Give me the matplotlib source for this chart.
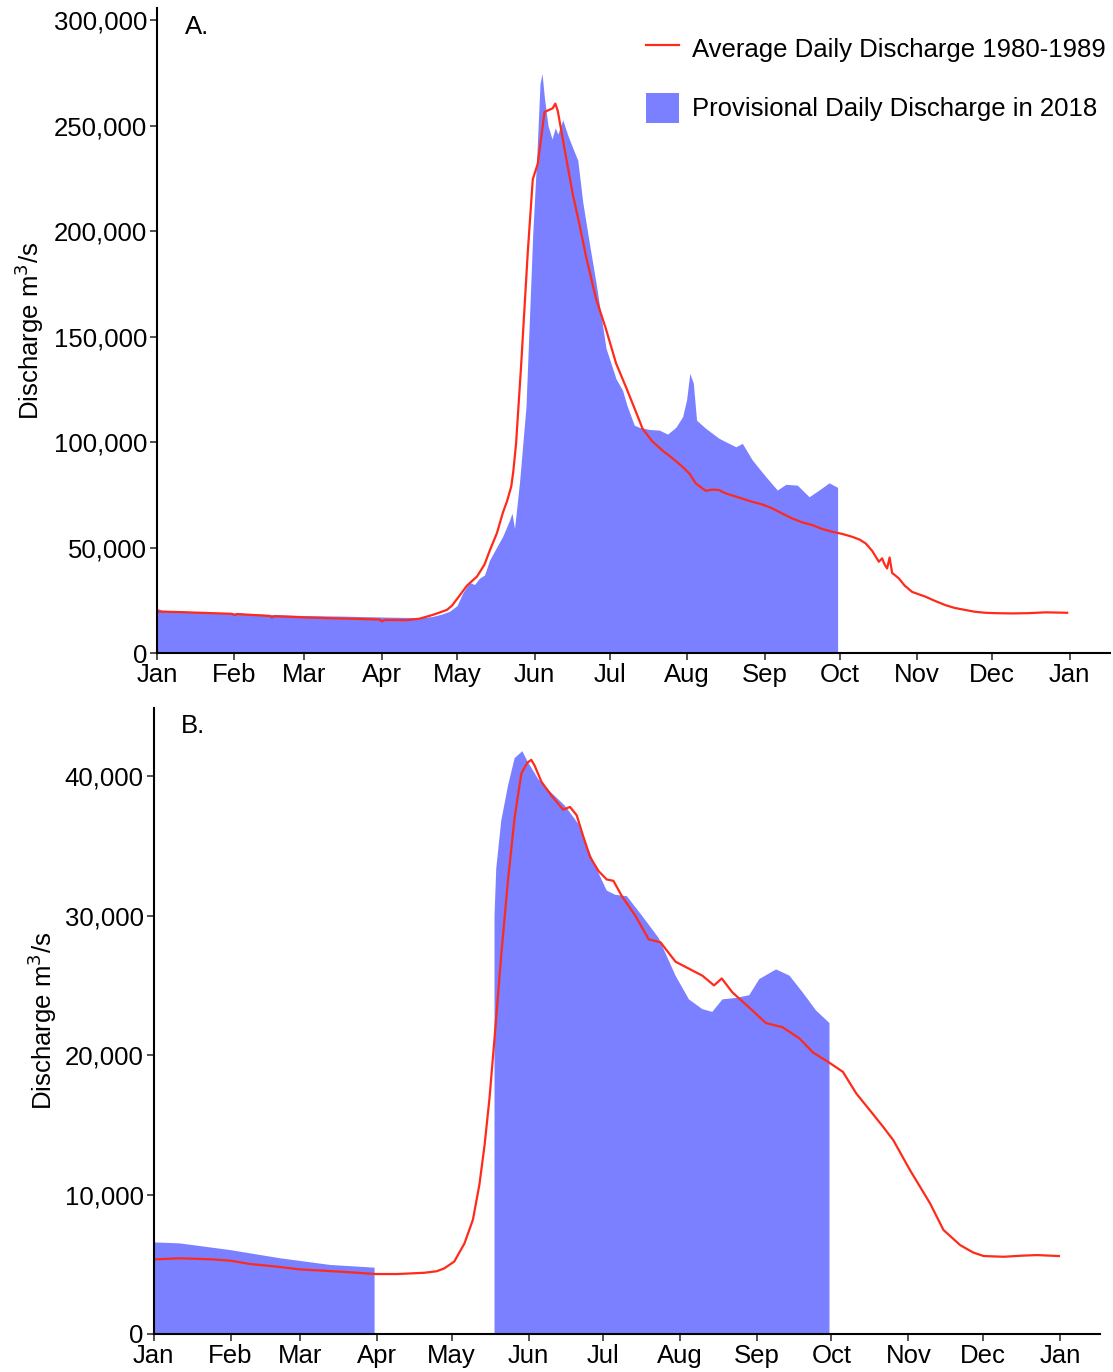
import numpy as np
import matplotlib
matplotlib.use("Agg")
import matplotlib.pyplot as plt
from matplotlib.lines import Line2D
from matplotlib.patches import Patch
from matplotlib.ticker import FuncFormatter

plt.rcParams['font.family'] = ['Liberation Sans', 'DejaVu Sans']

# month starts (day of year) and labels
month_days = [0, 31, 59, 90, 120, 151, 181, 212, 243, 273, 304, 334, 365]
month_labels = ["Jan", "Feb", "Mar", "Apr", "May", "Jun", "Jul", "Aug",
                "Sep", "Oct", "Nov", "Dec", "Jan"]

# ---------------- panel A (thousand m3/s) ----------------
a_avg_day = [0, 10, 20, 30, 31, 32, 45, 46, 47, 59, 70, 80, 89, 90, 91, 100,
             105, 110, 113, 116, 118, 121, 124, 128, 131, 133, 136, 138.3, 140,
             141.7, 142.5, 143.6, 145.6, 148.3, 150.3, 152.3, 155, 158.3, 159.3,
             160.3, 163, 166.3, 169, 171.6, 175.6, 179.6, 183.6, 187.6, 191,
             194.2, 198, 202.2, 206, 210.2, 213, 215.5, 219.5, 222, 224.8, 226,
             227.5, 232, 238.1, 242, 246.1, 250, 254.1, 258, 262.1, 266, 270.1,
             274, 278.1, 281, 283.4, 286, 288.7, 290, 291, 292, 293, 294, 296.7,
             299, 302, 307.4, 311, 315.4, 319, 323.4, 327, 331.3, 336, 342, 348,
             355.3, 360, 364]
a_avg_val = [19.7, 19.4, 19.0, 18.6, 18.0, 18.5, 17.6, 16.9, 17.5, 16.9, 16.5,
             16.2, 15.9, 15.0, 15.7, 15.6, 16.3, 18.0, 19.2, 20.5, 22.5, 27.2,
             32.0, 36.3, 42.0, 48.3, 57.0, 66.4, 72.0, 79.0, 86.0, 99.0, 135.5,
             190.0, 224.6, 232.0, 256.5, 258.3, 260.5, 257.0, 239.0, 217.5,
             203.0, 188.0, 168.0, 153.5, 137.4, 126.0, 116.0, 106.4, 100.5, 96.0,
             92.5, 88.3, 85.0, 80.4, 76.9, 77.5, 77.3, 76.5, 75.7, 74.0, 71.7,
             70.5, 68.6, 66.2, 63.8, 62.0, 60.7, 58.8, 57.5, 56.5, 55.1, 53.8,
             52.0, 48.5, 43.3, 44.9, 42.0, 40.1, 45.3, 38.0, 35.4, 32.0, 29.0,
             26.7, 24.8, 22.7, 21.4, 20.4, 19.6, 19.1, 18.9, 18.8, 18.9, 19.3,
             19.2, 19.1]

a_2018_day = [0, 2, 15, 31, 45, 59, 75, 90, 100, 105, 110, 114, 117, 120, 122.3,
              125, 127, 129, 131, 133, 136, 138.3, 140.9, 142, 143, 145, 147.6,
              150.3, 151.9, 153.2, 154, 155, 156.4, 158, 159.3, 160.3, 162.3,
              164.3, 167, 168.3, 170.3, 173, 175.6, 179.6, 183.6, 186.2, 188,
              190.9, 193, 196.9, 200.9, 204.2, 207.5, 210.2, 211.8, 213.1, 214.5,
              215.8, 219.5, 224.8, 231.5, 234.1, 238.1, 243.5, 248.1, 251.5,
              256.1, 260.8, 264.8, 268.8, 271.8, 272.2]
a_2018_val = [21.2, 20.3, 19.6, 19.0, 18.3, 17.8, 17.5, 17.1, 16.9, 16.8, 17.3,
              18.5, 19.8, 22.5, 28.5, 33.5, 32.5, 35.5, 37.0, 44.0, 50.5, 55.4,
              62.7, 66.3, 59.0, 81.0, 117.0, 199.0, 235.5, 270.0, 274.7, 262.8,
              250.0, 243.7, 249.0, 246.0, 252.8, 245.5, 237.4, 233.6, 213.7,
              193.8, 175.5, 144.5, 130.0, 124.6, 117.3, 108.0, 107.0, 106.0,
              105.7, 103.8, 107.0, 112.0, 120.0, 132.6, 128.0, 110.4, 106.5,
              101.8, 97.8, 99.4, 91.5, 83.6, 77.3, 80.0, 79.6, 74.1, 77.3, 80.7,
              78.8, 78.5]

# ---------------- panel B (thousand m3/s) ----------------
b_avg_day = [0, 10.5, 24, 30.8, 38.9, 49.7, 59, 68.5, 78, 89.4, 98.2, 109, 114,
             117, 121.1, 125.2, 128.6, 131.2, 133.3, 135.3, 137.3, 140, 142.7,
             145.4, 148.1, 150.5, 152.1, 153.5, 156.2, 160.3, 165, 167.7, 170.4,
             173.1, 175.8, 179.2, 182.5, 185.2, 188.6, 194, 199.4, 204.1, 210.2,
             215.6, 221, 225.7, 228.8, 233.1, 241.2, 246.6, 253.3, 260.1, 265.5,
             272.2, 277.6, 283, 288.4, 293.8, 297.9, 304.6, 312.7, 318.1, 324.8,
             330, 334.3, 342.4, 350, 355.8, 364.6]
b_avg_val = [5.35, 5.43, 5.35, 5.26, 5.02, 4.83, 4.63, 4.54, 4.44, 4.30, 4.30,
             4.39, 4.5, 4.7, 5.2, 6.5, 8.2, 10.7, 13.55, 16.95, 21.2, 27.15,
             32.5, 37.05, 40.2, 40.97, 41.18, 40.75, 39.6, 38.6, 37.6, 37.8,
             37.2, 35.65, 34.2, 33.2, 32.6, 32.5, 31.4, 30.0, 28.3, 28.1, 26.7,
             26.2, 25.7, 25.0, 25.5, 24.5, 23.2, 22.3, 22.0, 21.2, 20.2, 19.45,
             18.8, 17.25, 16.06, 14.86, 13.9, 11.76, 9.37, 7.46, 6.38, 5.85,
             5.59, 5.54, 5.62, 5.66, 5.59]

b_2018_day = [0, 10.5, 30.8, 51, 71.2, 88.8, 89, 137.2, 137.3, 138, 140, 142.7,
              145.4, 148.5, 150.8, 154.9, 160.3, 165.6, 171, 175, 179.1, 182.5,
              185.9, 190.6, 196.7, 203.4, 210.2, 215.6, 221, 225, 229.1, 234.5,
              239.9, 243.9, 250.7, 256.1, 261.4, 266.8, 272.2]
b_2018_val = [6.57, 6.5, 6.02, 5.43, 4.95, 4.76, 4.75, np.nan, 30.0, 33.4, 36.8,
              39.3, 41.3, 41.8, 41.0, 39.8, 38.8, 37.9, 36.6, 34.8, 33.1, 31.8,
              31.5, 31.4, 30.0, 28.4, 25.7, 24.0, 23.3, 23.1, 24.0, 24.1, 24.3,
              25.45, 26.15, 25.7, 24.5, 23.2, 22.3]

BLUE = "#7A80FF"
RED = "#FF2A1A"
FS = 18.5

fig = plt.figure(figsize=(11.13, 13.72), dpi=100)
axA = fig.add_axes([0.141, 0.524, 0.856, 0.470])
axB = fig.add_axes([0.138, 0.0277, 0.850, 0.4563])

comma = FuncFormatter(lambda v, p: f"{int(v):,}")


def style(ax, ymax, yticks):
    ax.set_xlim(0, 381)
    ax.set_ylim(0, ymax)
    ax.set_xticks(month_days)
    ax.set_xticklabels(month_labels)
    ax.set_yticks(yticks)
    ax.yaxis.set_major_formatter(comma)
    for s in ["top", "right"]:
        ax.spines[s].set_visible(False)
    for s in ["left", "bottom"]:
        ax.spines[s].set_linewidth(1.5)
        ax.spines[s].set_color("black")
    ax.tick_params(axis="both", length=5, width=1.2, color="#333333",
                   labelsize=FS, labelcolor="black", pad=2)
    ax.set_ylabel("Discharge m$^3$/s", fontsize=FS)


# panel A
y = np.array(a_2018_val) * 1000
axA.fill_between(a_2018_day, 0, y, color=BLUE, linewidth=0)
axA.plot(a_avg_day, np.array(a_avg_val) * 1000, color=RED, lw=1.6)
style(axA, 305700, [0, 50000, 100000, 150000, 200000, 250000, 300000])
axA.yaxis.set_label_coords(-0.116, 0.5)
axA.text(0.029, 0.99, "A.", transform=axA.transAxes, fontsize=FS, va="top")

handles = [Line2D([0], [0], color=RED, lw=1.6),
           Patch(facecolor=BLUE, edgecolor="none")]
axA.legend(handles, ["Average Daily Discharge 1980-1989",
                     "Provisional Daily Discharge in 2018"],
           loc="upper right", bbox_to_anchor=(1.02, 0.997), frameon=False,
           fontsize=FS, handlelength=1.3, handleheight=1.45,
           labelspacing=1.12, handletextpad=0.5)

# panel B
yb = np.array(b_2018_val) * 1000
axB.fill_between(b_2018_day, 0, yb, where=~np.isnan(yb), color=BLUE,
                 linewidth=0)
axB.plot(b_avg_day, np.array(b_avg_val) * 1000, color=RED, lw=1.6)
style(axB, 44900, [0, 10000, 20000, 30000, 40000])
axB.yaxis.set_label_coords(-0.1005, 0.5)
axB.text(0.029, 0.99, "B.", transform=axB.transAxes, fontsize=FS, va="top")

fig.savefig("out.png", dpi=100)
